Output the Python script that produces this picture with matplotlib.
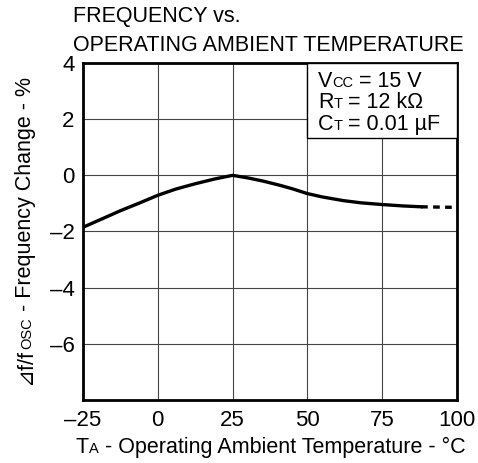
import matplotlib
matplotlib.use("Agg")
import matplotlib.pyplot as plt
from matplotlib.patches import Rectangle
from matplotlib.transforms import offset_copy

plt.rcParams['font.family'] = ['Liberation Sans', 'DejaVu Sans']

# curve
temp_solid = [-25, -18, -12.5, -6, 0, 6, 12.5, 19, 25, 30, 35, 41, 45, 50, 55, 62, 68, 75, 82, 88]
freq_solid = [-1.85, -1.52, -1.26, -0.98, -0.71, -0.49, -0.3, -0.13, 0.0, -0.09, -0.2, -0.36,
              -0.48, -0.65, -0.77, -0.9, -0.98, -1.04, -1.09, -1.12]
temp_dash = [88, 99]
freq_dash = [-1.12, -1.14]

xticks = [-25, 0, 25, 50, 75, 100]
xlabels = ['\u201325', '0', '25', '50', '75', '100']
yticks = [-6, -4, -2, 0, 2, 4]
ylabels = ['\u20136', '\u20134', '\u20132', '0', '2', '4']

W, H = 478, 463
BIG, SMALL = 15.5, 10.5

fig = plt.figure(figsize=(W / 100, H / 100), dpi=100)
ax = fig.add_axes([83 / W, 1 - 400 / H, (457 - 83) / W, (400 - 63) / H])
ax.set_xlim(-25, 100)
ax.set_ylim(-8, 4)
ax.set_xticks(xticks)
ax.set_xticklabels(xlabels, fontsize=16)
ax.set_yticks(yticks)
ax.set_yticklabels(ylabels, fontsize=16)
ax.tick_params(axis='x', length=0, pad=7)
ax.tick_params(axis='y', length=0, pad=6)
ax.grid(True, color='#444444', linewidth=0.8)
for s in ax.spines.values():
    s.set_linewidth(2)

ax.plot(temp_solid, freq_solid, color='black', linewidth=2.4, zorder=4,
        solid_joinstyle='round')
ax.plot(temp_dash, freq_dash, color='black', linewidth=2.4, linestyle=(0, (2, 1.6)), zorder=4)

ax.add_patch(Rectangle((50, 1.32), 50, 2.68, facecolor='white', edgecolor='black',
                       linewidth=1, zorder=3))

renderer = fig.canvas.get_renderer()


def rich(px, py, parts, rotation=0):
    # pieces of text of mixed size laid out along one baseline, position in pixels from top-left
    t = fig.transFigure
    x, y = px / W, 1 - py / H
    for s, size in parts:
        txt = fig.text(x, y, s, fontsize=size, transform=t, rotation=rotation,
                       ha='left', va='baseline', rotation_mode='anchor', zorder=6)
        ex = txt.get_window_extent(renderer)
        if rotation == 0:
            t = offset_copy(txt.get_transform(), fig=fig, x=ex.width, units='dots')
        else:
            t = offset_copy(txt.get_transform(), fig=fig, y=ex.height, units='dots')


rich(73, 22, [('FREQUENCY vs.', BIG)])
rich(73, 51, [('OPERATING AMBIENT TEMPERATURE', BIG)])

rich(318, 87, [('V', BIG), ('CC', SMALL), (' = 15 V', BIG)])
rich(318, 108, [('R', BIG), ('T', SMALL), (' = 12 k\u03a9', BIG)])
rich(318, 130, [('C', BIG), ('T', SMALL), (' = 0.01 \u00b5F', BIG)])

rich(76, 453, [('T', BIG), ('A', SMALL), (' - Operating Ambient Temperature - \u00b0C', BIG)])
rich(31, 385, [('\u22bff/f', BIG), ('OSC', SMALL), (' - Frequency Change - %', BIG)], rotation=90)

fig.savefig('out.png', dpi=100)
